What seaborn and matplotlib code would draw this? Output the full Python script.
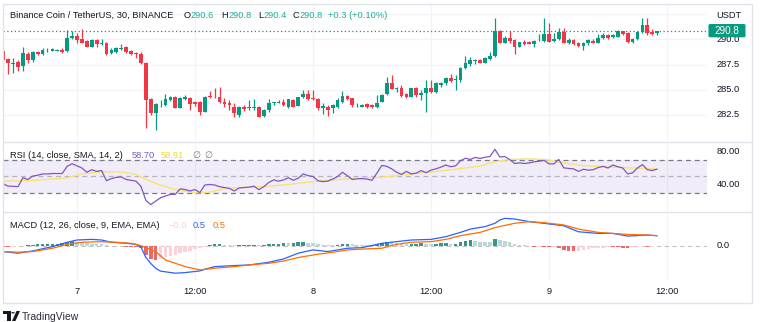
import numpy as np
import pandas as pd
import matplotlib
matplotlib.use("Agg")
import matplotlib.pyplot as plt
import matplotlib.transforms as mtransforms
from matplotlib.patches import Rectangle, FancyBboxPatch, Circle, Polygon
from matplotlib.lines import Line2D
import seaborn as sns

# ---------------- data (30-min bars, 6th 16:30 -> 9th 11:00) ----------------
opens = [288.87, 288.00, 287.55, 287.78, 287.35, 288.51, 287.95, 288.77, 288.51, 288.90,
         288.84, 288.88, 288.94, 288.84, 290.10, 290.36, 290.00, 289.83, 289.27, 289.93,
         289.50, 289.60, 288.68, 288.77, 289.08, 289.27, 288.84, 288.68, 288.51, 287.65,
         284.08, 282.66, 283.47, 283.49, 283.98, 284.31, 283.22, 284.05, 284.18, 283.75,
         283.75, 282.83, 284.38, 284.31, 284.28, 283.75, 283.65, 283.32, 282.50, 283.26,
         283.16, 283.24, 283.32, 282.39, 282.99, 283.70, 283.72, 283.82, 283.26, 283.98,
         283.39, 284.25, 284.55, 284.15, 284.08, 283.16, 283.32, 283.22, 283.32, 283.82,
         284.41, 284.15, 283.37, 283.32, 283.55, 283.49, 283.26, 283.82, 284.55, 285.64,
         285.04, 285.14, 284.55, 284.31, 285.14, 284.48, 284.65, 285.14, 284.74, 285.47,
         285.64, 286.20, 285.97, 285.97, 287.12, 287.58, 287.85, 287.95, 287.68, 288.02,
         288.35, 290.82, 289.67, 290.16, 289.93, 289.27, 289.77, 289.73, 289.50, 289.90,
         289.86, 290.49, 289.86, 290.00, 290.69, 289.67, 289.93, 289.67, 289.34, 289.60,
         289.86, 289.67, 290.10, 290.43, 290.20, 290.26, 290.82, 290.59, 289.70, 290.03,
         290.76, 291.42, 290.76, 290.60]
highs = [288.94, 288.10, 288.11, 287.95, 289.27, 288.77, 288.87, 288.84, 289.17, 289.11,
         289.11, 289.00, 289.11, 290.92, 290.86, 290.59, 290.99, 289.93, 290.00, 290.03,
         290.00, 289.70, 289.11, 289.27, 289.54, 289.37, 288.94, 288.77, 288.71, 287.78,
         284.15, 283.65, 283.98, 284.58, 284.41, 284.41, 284.25, 284.48, 284.31, 283.92,
         283.88, 284.41, 284.91, 285.21, 285.24, 284.15, 283.98, 283.65, 283.39, 283.49,
         283.98, 284.05, 283.39, 283.06, 284.05, 283.82, 283.98, 284.05, 284.10, 284.05,
         284.30, 284.98, 284.98, 284.98, 284.15, 283.65, 283.49, 283.59, 284.15, 284.91,
         284.48, 284.22, 283.65, 283.59, 283.65, 283.55, 284.48, 284.55, 286.30, 286.46,
         285.31, 285.47, 284.65, 285.21, 285.24, 284.98, 285.97, 285.97, 285.74, 285.80,
         286.30, 286.56, 286.46, 287.29, 288.35, 288.21, 288.02, 288.02, 288.28, 288.77,
         292.08, 290.92, 290.33, 290.86, 290.00, 289.77, 289.93, 289.80, 289.93, 290.53,
         292.08, 291.58, 290.59, 291.09, 291.09, 290.10, 290.00, 289.77, 289.77, 290.00,
         290.00, 290.49, 290.59, 290.49, 290.50, 290.92, 290.86, 290.69, 290.10, 290.82,
         292.08, 292.08, 290.99, 290.80]
lows = [287.78, 286.56, 286.70, 286.86, 286.86, 287.62, 287.78, 288.44, 288.44, 288.77,
        288.80, 288.80, 288.61, 288.77, 290.03, 289.60, 289.60, 289.20, 289.20, 289.27,
        289.44, 288.44, 288.51, 288.61, 288.94, 288.61, 288.44, 288.11, 287.55, 281.18,
        282.50, 281.01, 283.32, 283.39, 283.92, 283.16, 283.16, 283.98, 282.99, 283.39,
        282.50, 282.76, 284.15, 284.15, 283.65, 283.32, 282.99, 282.33, 282.27, 282.93,
        282.99, 282.99, 282.27, 282.33, 282.83, 283.49, 283.65, 283.39, 283.20, 283.26,
        283.35, 284.20, 283.98, 283.98, 282.99, 282.56, 282.39, 282.66, 283.16, 283.72,
        283.98, 283.32, 283.26, 283.26, 283.16, 283.20, 283.16, 283.75, 284.48, 285.04,
        284.81, 284.31, 284.15, 284.25, 284.31, 283.98, 282.83, 284.65, 284.65, 285.31,
        285.47, 285.80, 284.98, 285.80, 287.10, 287.35, 287.55, 287.62, 287.62, 287.95,
        288.28, 289.60, 289.60, 289.67, 288.51, 289.20, 289.44, 289.50, 289.20, 289.80,
        289.77, 289.70, 289.70, 289.93, 289.60, 289.50, 289.44, 289.27, 288.94, 289.44,
        289.60, 289.60, 290.00, 290.00, 290.10, 290.20, 290.43, 289.60, 289.60, 289.93,
        290.59, 290.43, 290.43, 290.40]
closes = [287.95, 287.62, 287.68, 287.29, 288.61, 287.95, 288.77, 288.51, 288.94, 288.96,
          289.01, 288.90, 288.74, 290.10, 290.36, 289.93, 289.67, 289.27, 289.93, 289.54,
          289.67, 288.51, 288.94, 289.11, 289.13, 288.77, 288.51, 288.51, 287.62, 283.98,
          282.66, 283.55, 283.51, 284.05, 284.31, 283.22, 284.22, 284.25, 283.55, 283.55,
          282.83, 284.31, 284.25, 284.25, 283.75, 283.59, 283.49, 282.66, 283.32, 283.06,
          283.26, 283.28, 282.33, 282.99, 283.65, 283.74, 283.82, 283.49, 284.05, 283.32,
          284.25, 284.55, 284.05, 284.05, 283.16, 283.39, 282.99, 283.49, 283.98, 284.41,
          284.05, 283.49, 283.41, 283.49, 283.32, 283.26, 283.72, 284.48, 285.64, 285.07,
          285.14, 284.41, 284.31, 285.14, 284.48, 284.71, 285.14, 284.74, 285.64, 285.64,
          286.20, 285.87, 286.07, 287.12, 287.62, 287.95, 287.95, 287.68, 288.11, 288.35,
          290.82, 289.67, 290.16, 289.86, 289.20, 289.70, 289.54, 289.54, 289.83, 289.95,
          290.49, 289.77, 290.00, 290.69, 289.67, 289.93, 289.50, 289.37, 289.67, 289.93,
          289.67, 290.10, 290.43, 290.10, 290.43, 290.82, 290.49, 289.70, 290.03, 290.76,
          291.42, 290.66, 290.53, 290.80]

rsi = [41.4, 38.6, 38.5, 38.0, 48.5, 46.5, 50.5, 51.5, 53.0, 53.0,
       53.5, 53.5, 53.5, 62.0, 65.0, 62.5, 60.0, 55.0, 58.0, 56.0,
       57.0, 45.0, 47.5, 49.0, 49.5, 46.5, 45.5, 44.5, 38.5, 22.0,
       17.0, 21.0, 25.0, 27.0, 29.0, 29.0, 35.5, 34.7, 33.0, 34.7,
       31.0, 40.0, 40.6, 40.0, 38.0, 37.0, 36.0, 33.0, 36.5, 37.0,
       37.5, 38.5, 34.5, 38.0, 43.0, 46.0, 44.5, 46.0, 48.5, 45.5,
       48.0, 53.0, 51.0, 50.0, 45.0, 44.0, 44.5, 47.0, 50.0, 55.0,
       51.0, 46.5, 47.3, 47.5, 47.0, 45.5, 54.0, 63.0, 62.0, 59.0,
       55.0, 52.5, 56.0, 53.0, 54.0, 57.0, 54.5, 57.5, 59.0, 61.0,
       63.5, 61.5, 62.5, 68.5, 71.5, 70.0, 72.5, 71.2, 72.7, 73.5,
       82.0, 73.0, 73.5, 70.0, 65.3, 66.0, 65.3, 66.0, 67.3, 68.0,
       69.0, 64.9, 64.9, 70.0, 60.2, 59.5, 59.0, 56.0, 58.5, 57.5,
       58.0, 60.5, 62.0, 60.0, 63.5, 61.5, 60.0, 53.0, 54.3, 60.0,
       64.0, 58.0, 57.0, 58.7]

rsi_sma_idx = [0, 6, 13, 16, 20, 23, 25, 27, 29, 32, 35, 37, 40, 42, 45, 50, 54, 58, 62, 66,
               70, 73, 77, 80, 83, 87, 90, 93, 97, 100, 103, 107, 110, 114, 117, 121, 124, 127, 131, 133]
rsi_sma = [44.5, 45.3, 48.4, 53.1, 55.5, 55.5, 54.7, 52.4, 46.5, 39.8, 34.7, 32.7, 30.8, 31.6, 35.9,
           37.5, 38.6, 40.6, 43.3, 45.7, 47.0, 48.4, 49.2, 51.2, 53.1, 55.1, 57.1, 59.4, 62.2, 67.3,
           70.0, 70.8, 70.0, 66.1, 63.3, 61.8, 61.0, 60.2, 59.4, 58.9]

macd_idx = [0, 3, 6, 10, 13, 15, 18, 20, 22, 25, 27, 28, 29, 30, 31, 32, 35, 37, 40, 41, 43, 47, 50,
            54, 57, 60, 63, 66, 70, 73, 77, 80, 83, 87, 90, 93, 95, 98, 100, 101, 102, 104, 107, 110,
            114, 117, 121, 124, 127, 131, 133]
macd_line = [-0.27, -0.35, -0.24, -0.03, 0.18, 0.29, 0.32, 0.29, 0.18, 0.13, 0.08, -0.05, -0.55,
             -0.85, -1.08, -1.22, -1.32, -1.29, -1.21, -1.13, -1.00, -0.95, -0.92, -0.79, -0.63,
             -0.35, -0.19, -0.27, -0.11, -0.08, 0.13, 0.21, 0.29, 0.32, 0.45, 0.66, 0.82, 0.94,
             1.10, 1.26, 1.34, 1.31, 1.18, 1.10, 0.98, 0.69, 0.61, 0.61, 0.48, 0.53, 0.50]
signal_idx = [0, 3, 6, 10, 13, 16, 20, 23, 26, 28, 31, 33, 37, 40, 43, 47, 50, 54, 57, 60, 64, 67,
              70, 73, 77, 80, 83, 87, 90, 93, 97, 100, 104, 107, 110, 114, 117, 121, 124, 127, 131, 133]
signal_line = [-0.27, -0.30, -0.27, -0.11, 0.08, 0.18, 0.21, 0.18, 0.13, 0.02, -0.27, -0.68, -1.00,
               -1.16, -1.08, -1.00, -0.92, -0.84, -0.73, -0.56, -0.40, -0.31, -0.19, -0.15, -0.11,
               0.08, 0.18, 0.21, 0.32, 0.50, 0.66, 0.89, 1.10, 1.18, 1.13, 1.02, 0.82, 0.66, 0.61,
               0.56, 0.53, 0.50]
hist = [-0.04, -0.05, -0.04, -0.02, 0.02, 0.04, 0.06, 0.08, 0.10, 0.11,
        0.12, 0.12, 0.13, 0.20, 0.25, 0.20, 0.17, 0.14, 0.12, 0.10,
        0.08, 0.04, -0.01, -0.02, -0.02, -0.03, -0.04, -0.05, -0.12, -0.45,
        -0.65, -0.70, -0.62, -0.55, -0.48, -0.42, -0.35, -0.28, -0.22, -0.16,
        -0.10, -0.04, 0.06, 0.08, 0.08, 0.06, 0.05, 0.03, 0.04, 0.05,
        0.05, 0.06, 0.04, 0.06, 0.08, 0.10, 0.12, 0.14, 0.13, 0.15,
        0.17, 0.18, 0.15, 0.13, 0.10, 0.07, 0.04, 0.03, 0.05, 0.08,
        0.12, 0.10, 0.06, 0.05, 0.04, 0.04, 0.08, 0.15, 0.20, 0.18,
        0.14, 0.10, 0.08, 0.10, 0.12, 0.13, 0.10, 0.09, 0.12, 0.13,
        0.15, 0.12, 0.12, 0.20, 0.26, 0.27, 0.24, 0.21, 0.20, 0.19,
        0.32, 0.29, 0.24, 0.17, 0.10, 0.07, 0.03, -0.01, -0.04, -0.03,
        -0.05, -0.06, -0.05, -0.12, -0.20, -0.22, -0.23, -0.22, -0.18, -0.14,
        -0.12, -0.10, -0.08, -0.06, -0.06, -0.07, -0.09, -0.10, -0.07, -0.05,
        -0.03, -0.06, -0.04, -0.01]

tick_idx = [15, 39, 63, 87, 111, 135]
tick_labels = ["7", "12:00", "8", "12:00", "9", "12:00"]
price_ticks = [282.5, 285.0, 287.5, 290.0]
price_tick_labels = ["282.5", "285.0", "287.5", "290.0"]
last_price = 290.8
last_price_label = "290.8"
rsi_ticks = [80, 40]
rsi_tick_labels = ["80.00", "40.00"]

title_main = "Binance Coin / TetherUS, 30, BINANCE"
ohlc_labels = [("O", "290.6"), ("H", "290.8"), ("L", "290.4"), ("C", "290.8")]
change_label = "+0.3 (+0.10%)"
rsi_title = "RSI (14, close, SMA, 14, 2)"
rsi_values = ["58.70", "58.91"]
macd_title = "MACD (12, 26, close, 9, EMA, EMA)"
macd_values = ["\u22120.0", "0.5", "0.5"]

# ---------------- styling ----------------
sns.set_style("white")
plt.rcParams['font.family'] = ['Liberation Sans', 'DejaVu Sans']
plt.rcParams['axes.unicode_minus'] = True

GREEN = '#089981'
RED = '#F23645'
TEXT = '#131722'
GRID = '#f0f3fa'
BORDER = '#e0e3eb'
FS = 6.7

W, H = 760, 322
fig = plt.figure(figsize=(7.6, 3.22), dpi=100)
fig.patch.set_facecolor('white')
renderer = fig.canvas.get_renderer()


def fx(px):
    return px / W


def fy(py):
    return 1 - py / H


def text_run(x_px, y_px, pieces, gap_px=0.0, **kw):
    """Draw consecutive text pieces, each starting where the previous ended."""
    x = x_px
    for s, col in pieces:
        t = fig.text(fx(x), fy(y_px), s, ha='left', va='center', fontsize=FS, color=col, **kw)
        bb = t.get_window_extent(renderer=renderer)
        x += bb.width + gap_px
    return x


XL = (-0.05, 143.14)


def add_ax(top, bottom):
    ax = fig.add_axes([fx(3), fy(bottom), fx(707) - fx(3), (bottom - top) / H])
    ax.set_axis_off()
    return ax


ax_p = add_ax(4, 141)
ax_r = add_ax(142, 211)
ax_m = add_ax(213, 280)

for ax in (ax_p, ax_r, ax_m):
    for t in tick_idx:
        ax.axvline(t, color=GRID, lw=0.9, zorder=0)

# ---------------- price panel ----------------
idx = np.arange(len(closes))
o = np.array(opens); c = np.array(closes); hi = np.array(highs); lo = np.array(lows)
up = c >= o
cols = np.where(up, GREEN, RED)
for y in price_ticks + [292.5]:
    ax_p.axhline(y, color=GRID, lw=0.9, zorder=0)
ax_p.vlines(idx, lo, hi, colors=cols, lw=0.9, zorder=2)
body_bottom = np.minimum(o, c)
body_h = np.maximum(np.abs(c - o), 0.035)
ax_p.bar(idx, body_h, bottom=body_bottom, width=0.76, color=cols, linewidth=0, zorder=3)
ax_p.axhline(last_price, color=GREEN, lw=0.9, ls=(0, (1, 2)), zorder=1)
ax_p.set_xlim(*XL)
ax_p.set_ylim(279.92, 293.5)

# ---------------- RSI panel ----------------
ax_r.axhspan(30, 70, color='#7E57C2', alpha=0.1, lw=0, zorder=0)
ax_r.axhline(70, color='#787B86', lw=0.9, ls=(0, (4, 3)), zorder=1)
ax_r.axhline(30, color='#787B86', lw=0.9, ls=(0, (4, 3)), zorder=1)
ax_r.axhline(50, color='#787B86', lw=0.9, ls=(0, (4, 3)), alpha=0.5, zorder=1)
sns.lineplot(x=rsi_sma_idx, y=rsi_sma, ax=ax_r, color='#F7E36E', lw=1.0, errorbar=None, sort=False)
sns.lineplot(x=idx, y=rsi, ax=ax_r, color='#7E57C2', lw=0.9, errorbar=None, sort=False)
ax_r.set_xlim(*XL)
ax_r.set_ylim(9.4, 90.6)
ax_r.set_axis_off()

# ---------------- MACD panel ----------------
hv = np.array(hist)
prev = np.concatenate([[hv[0]], hv[:-1]])
cat = np.where(hv >= 0, np.where(hv >= prev, 'pos_up', 'pos_dn'),
               np.where(hv <= prev, 'neg_dn', 'neg_up'))
hdf = pd.DataFrame({'i': idx, 'h': hv, 'cat': cat})
pal = {'pos_up': '#26A69A', 'pos_dn': '#B2DFDB', 'neg_dn': '#FF5252', 'neg_up': '#FFCDD2'}
ax_m.axhline(0, color='#787B86', lw=0.8, ls=(0, (4, 3)), alpha=0.45, zorder=0)
sns.barplot(data=hdf, x='i', y='h', hue='cat', palette=pal, native_scale=True, dodge=False,
            width=0.72, linewidth=0, legend=False, ax=ax_m, zorder=2)
sns.lineplot(x=macd_idx, y=macd_line, ax=ax_m, color='#2962FF', lw=0.9, errorbar=None, sort=False)
sns.lineplot(x=signal_idx, y=signal_line, ax=ax_m, color='#FF6D00', lw=0.9, errorbar=None, sort=False)
ax_m.set_xlim(*XL)
ax_m.set_ylim(-1.65, 1.60)
ax_m.set_axis_off()

# ---------------- right scales ----------------
XR = (716.7 - 3) / 704
for ax, ticks, labs in ((ax_p, price_ticks, price_tick_labels),
                        (ax_r, rsi_ticks, rsi_tick_labels),
                        (ax_m, [0.0], ["0.0"])):
    tr = mtransforms.blended_transform_factory(ax.transAxes, ax.transData)
    for t, l in zip(ticks, labs):
        ax.text(XR, t, l, transform=tr, ha='left', va='center', fontsize=FS, color=TEXT,
                clip_on=False, zorder=5)
fig.text(fx(716.7), fy(15), "USDT", ha='left', va='center', fontsize=FS, color=TEXT)

# last price tag (drawn on figure level, above the axes)
trp = mtransforms.blended_transform_factory(fig.transFigure, ax_p.transData)
tag = FancyBboxPatch((fx(708.5), fy(37.3)), fx(745.5) - fx(708.5), (37.3 - 24) / H,
                     boxstyle="round,pad=0,rounding_size=0.003", transform=fig.transFigure,
                     fc=GREEN, ec='none', zorder=10)
fig.add_artist(tag)
fig.text(fx(727), last_price, last_price_label, transform=trp, ha='center', va='center',
         fontsize=FS + 0.4, color='white', zorder=12)

# ---------------- time axis ----------------
trt = mtransforms.blended_transform_factory(ax_m.transData, fig.transFigure)
for t, l in zip(tick_idx, tick_labels):
    ax_m.text(t, fy(292), l, transform=trt, ha='center', va='center', fontsize=FS,
              color=TEXT, clip_on=False)

# ---------------- legends / headers ----------------
fig.text(fx(10), fy(15.7), title_main, ha='left', va='center', fontsize=FS, color=TEXT)
group_x = [184.0, 221.5, 258.0, 292.5]
for gx, (k, v) in zip(group_x, ohlc_labels):
    text_run(gx, 15.7, [(k, TEXT), (v, '#22AB94')])
fig.text(fx(328.3), fy(15.7), change_label, ha='left', va='center', fontsize=FS, color='#22AB94')

fig.text(fx(10), fy(155), rsi_title, ha='left', va='center', fontsize=FS, color=TEXT)
fig.text(fx(131.7), fy(155), rsi_values[0], ha='left', va='center', fontsize=FS, color='#7E57C2')
fig.text(fx(161), fy(155), rsi_values[1], ha='left', va='center', fontsize=FS, color='#EED33A')
fig.text(fx(192.3), fy(155), "\u2205", ha='left', va='center', fontsize=FS, color='#787B86',
         family=['DejaVu Sans'])
fig.text(fx(204), fy(155), "\u2205", ha='left', va='center', fontsize=FS, color='#787B86',
         family=['DejaVu Sans'])

fig.text(fx(10), fy(225), macd_title, ha='left', va='center', fontsize=FS, color=TEXT)
fig.text(fx(168.3), fy(225), macd_values[0], ha='left', va='center', fontsize=FS, color='#FFCDD2')
fig.text(fx(192.7), fy(225), macd_values[1], ha='left', va='center', fontsize=FS, color='#2962FF')
fig.text(fx(212.3), fy(225), macd_values[2], ha='left', va='center', fontsize=FS, color='#FF6D00')

# ---------------- frame & separators ----------------
fig.add_artist(Rectangle((fx(3), fy(302.5)), fx(752) - fx(3), (302.5 - 3.5) / H,
                         transform=fig.transFigure, fill=False, ec=BORDER, lw=1.0))
for yy in (141.5, 212.0):
    fig.add_artist(Line2D([fx(3), fx(752)], [fy(yy), fy(yy)], transform=fig.transFigure,
                          color=BORDER, lw=1.0))

# ---------------- TradingView logo ----------------
logo_col = '#131722'
fig.add_artist(Rectangle((fx(3), fy(314)), fx(10.5) - fx(3), 3 / H, transform=fig.transFigure,
                         fc=logo_col, ec='none'))
fig.add_artist(Rectangle((fx(7), fy(321)), fx(10.5) - fx(7), 10 / H, transform=fig.transFigure,
                         fc=logo_col, ec='none'))
fig.add_artist(Circle((fx(13), fy(312.8)), 1.7 / W, transform=fig.transFigure, fc=logo_col,
                      ec='none'))
fig.add_artist(Polygon([(fx(16.5), fy(311)), (fx(20), fy(311)), (fx(15.5), fy(321)),
                        (fx(12), fy(321))], closed=True, transform=fig.transFigure,
                       fc=logo_col, ec='none'))
fig.text(fx(22), fy(316.5), "TradingView", ha='left', va='center', fontsize=7.5, color='#2a2e39')

fig.savefig("out.png", dpi=100, facecolor='white')
